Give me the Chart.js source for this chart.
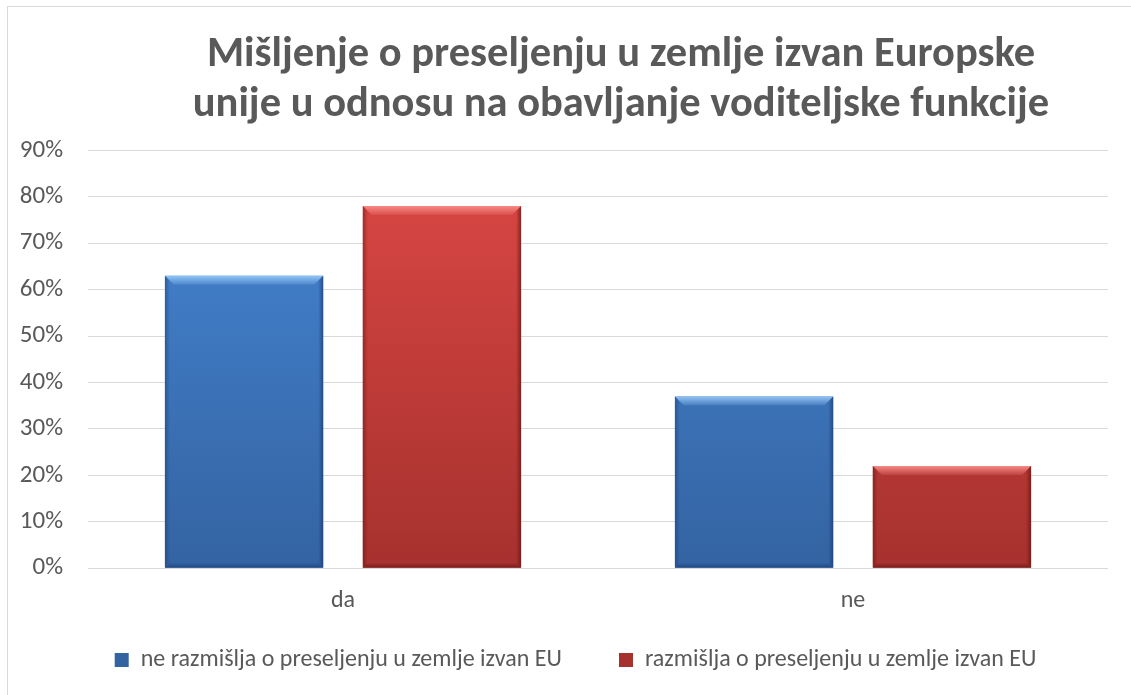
<!DOCTYPE html>
<html>
<head>
<meta charset="utf-8">
<script src="https://cdn.jsdelivr.net/npm/chart.js@4.4.1/dist/chart.umd.min.js"></script>
<style>
  html, body { margin: 0; padding: 0; background: #fff; }
  #wrap { position: relative; width: 1131px; height: 695px; }
  #frame { position: absolute; left: 7px; top: 6px; right: -2px; bottom: -2px;
           border-left: 1px solid #d9d9d9; border-top: 1px solid #d9d9d9; }
  canvas { position: absolute; left: 0; top: 0; }
</style>
</head>
<body>
<div id="wrap">
  <div id="frame"></div>
  <canvas id="chart" width="1131" height="695"></canvas>
</div>
<script>
const categories = ['da', 'ne'];
const seriesNames = [
  'ne razmišlja o preseljenju u zemlje izvan EU',
  'razmišlja o preseljenju u zemlje izvan EU'
];
const notThinking = [63, 37];
const thinking = [78, 22];
const yTicks = [0, 10, 20, 30, 40, 50, 60, 70, 80, 90];
const titleLines = [
  'Mišljenje o preseljenju u zemlje izvan Europske',
  'unije u odnosu na obavljanje voditeljske funkcije'
];

const FONT = 'Carlito, Calibri, Lato, sans-serif';
const GREY = '#595959';

function barGradient(top, bottom) {
  return function (ctx) {
    const area = ctx.chart.chartArea;
    if (!area) return top;
    const g = ctx.chart.ctx.createLinearGradient(0, area.top, 0, area.bottom);
    g.addColorStop(0, top);
    g.addColorStop(1, bottom);
    return g;
  };
}

// bevelled edges like the office 3D bars
const bevel = {
  id: 'bevel',
  afterDatasetsDraw(chart) {
    const c = chart.ctx;
    const shades = [
      { hi: 'rgba(150,200,250,', lo: 'rgba(25,60,115,' },
      { hi: 'rgba(250,140,135,', lo: 'rgba(100,20,18,' }
    ];
    chart.data.datasets.forEach((ds, i) => {
      const s = shades[i];
      chart.getDatasetMeta(i).data.forEach((bar) => {
        const l = bar.x - bar.width / 2, r = bar.x + bar.width / 2;
        const t = bar.y, b = bar.base, d = 9;
        c.save();
        let g = c.createLinearGradient(0, t, 0, t + d);
        g.addColorStop(0, s.hi + '0.95)');
        g.addColorStop(1, s.hi + '0.15)');
        c.fillStyle = g;
        c.beginPath();
        c.moveTo(l, t); c.lineTo(r, t); c.lineTo(r - d, t + d); c.lineTo(l + d, t + d);
        c.closePath(); c.fill();
        g = c.createLinearGradient(r, 0, r - 5, 0);
        g.addColorStop(0, s.lo + '0.7)');
        g.addColorStop(1, s.lo + '0)');
        c.fillStyle = g;
        c.beginPath();
        c.moveTo(r, t); c.lineTo(r, b); c.lineTo(r - 5, b - 5); c.lineTo(r - 5, t + 5);
        c.closePath(); c.fill();
        g = c.createLinearGradient(l, 0, l + 5, 0);
        g.addColorStop(0, s.lo + '0.5)');
        g.addColorStop(1, s.lo + '0)');
        c.fillStyle = g;
        c.beginPath();
        c.moveTo(l, t); c.lineTo(l, b); c.lineTo(l + 5, b - 5); c.lineTo(l + 5, t + 5);
        c.closePath(); c.fill();
        g = c.createLinearGradient(0, b, 0, b - 5);
        g.addColorStop(0, s.lo + '0.7)');
        g.addColorStop(1, s.lo + '0)');
        c.fillStyle = g;
        c.beginPath();
        c.moveTo(l, b); c.lineTo(r, b); c.lineTo(r - 5, b - 5); c.lineTo(l + 5, b - 5);
        c.closePath(); c.fill();
        c.restore();
      });
    });
  }
};

// the office title and legend sit a little right of centre,
// and the wide legend spacing should not eat into the plot
const shiftBoxes = {
  id: 'shiftBoxes',
  afterLayout(chart) {
    const t = chart.titleBlock;
    if (t) { t.left += 23; t.right += 23; }
    const lg = chart.legend;
    if (lg) { lg.left += 20; lg.right += 20; lg.top -= 42; lg.bottom -= 42; }
  }
};

new Chart(document.getElementById('chart'), {
  type: 'bar',
  data: {
    labels: categories,
    datasets: [{
      label: seriesNames[0],
      data: notThinking,
      backgroundColor: barGradient('#4587d4', '#3463a2'),
      borderWidth: 0,
      categoryPercentage: 0.776,
      barPercentage: 0.8
    }, {
      label: seriesNames[1],
      data: thinking,
      backgroundColor: barGradient('#dc4845', '#a6312e'),
      borderWidth: 0,
      categoryPercentage: 0.776,
      barPercentage: 0.8
    }]
  },
  options: {
    responsive: false,
    animation: false,
    layout: { padding: { left: 3, right: 23, top: 6, bottom: -29 } },
    scales: {
      x: {
        grid: { display: false, drawTicks: false },
        border: { display: false },
        ticks: { color: GREY, font: { family: FONT, size: 24 }, padding: 18 }
      },
      y: {
        min: 0,
        max: 90,
        afterBuildTicks(axis) { axis.ticks = yTicks.map(v => ({ value: v })); },
        grid: { color: '#d9d9d9', lineWidth: 1, drawTicks: false },
        border: { display: false },
        ticks: {
          color: GREY,
          font: { family: FONT, size: 25 },
          padding: 25,
          callback: v => v + '%'
        },
        afterFit(scale) { scale.width = 85; }
      }
    },
    plugins: {
      title: {
        display: true,
        text: titleLines,
        color: GREY,
        fullSize: false,
        font: { family: FONT, size: 42.5, weight: 'bold', lineHeight: 1.18 },
        padding: { top: 24.5, bottom: 19.5 }
      },
      legend: {
        position: 'bottom',
        labels: {
          color: GREY,
          font: { family: FONT, size: 24 },
          boxWidth: 14,
          boxHeight: 14,
          padding: 57
        }
      },
      tooltip: { enabled: false }
    }
  },
  plugins: [bevel, shiftBoxes]
});
</script>
</body>
</html>
